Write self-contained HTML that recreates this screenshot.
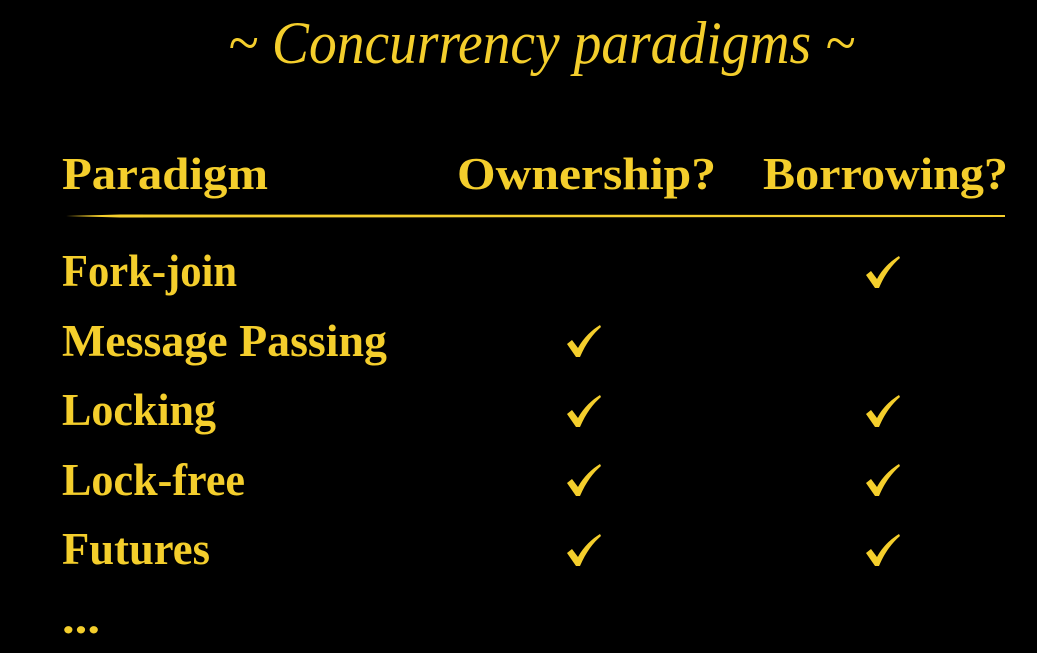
<!DOCTYPE html>
<html><head><style>
html,body{margin:0;padding:0;background:#000;width:1037px;height:653px;overflow:hidden}
</style></head><body>
<svg width="1037" height="653" xmlns="http://www.w3.org/2000/svg" style="display:block">
<defs>
<path id="ck" d="M0,17 L5,13 L11,21 C17,10 25,3 33,-2 L34,0 C26,7 19,16 13,30 L9,30 Z"/>
</defs>
<g fill="#F4CE2C" font-family="Liberation Serif, serif">
<text x="228" y="63" font-size="60" font-style="italic" textLength="627" lengthAdjust="spacingAndGlyphs">~ Concurrency paradigms ~</text>
<g font-weight="bold" font-size="45">
<text x="62" y="189" textLength="206" lengthAdjust="spacingAndGlyphs">Paradigm</text>
<text x="457" y="189" textLength="259" lengthAdjust="spacingAndGlyphs">Ownership?</text>
<text x="763" y="189" textLength="245" lengthAdjust="spacingAndGlyphs">Borrowing?</text>
<text x="62" y="286" textLength="175" lengthAdjust="spacingAndGlyphs">Fork-join</text>
<text x="62" y="356" textLength="325" lengthAdjust="spacingAndGlyphs">Message Passing</text>
<text x="62" y="425" textLength="154" lengthAdjust="spacingAndGlyphs">Locking</text>
<text x="62" y="495" textLength="183" lengthAdjust="spacingAndGlyphs">Lock-free</text>
<text x="62" y="564" textLength="148" lengthAdjust="spacingAndGlyphs">Futures</text>
<text x="62" y="633" textLength="38" lengthAdjust="spacingAndGlyphs">...</text>
</g>
<use href="#ck" x="866" y="258"/>
<use href="#ck" x="567" y="327"/>
<use href="#ck" x="567" y="397"/><use href="#ck" x="866" y="397"/>
<use href="#ck" x="567" y="466"/><use href="#ck" x="866" y="466"/>
<use href="#ck" x="567" y="536"/><use href="#ck" x="866" y="536"/>
</g>
<polygon points="66,216 120,214.5 1005,215 1005,217 120,217.5" fill="#F4CE2C"/>
</svg>
</body></html>
